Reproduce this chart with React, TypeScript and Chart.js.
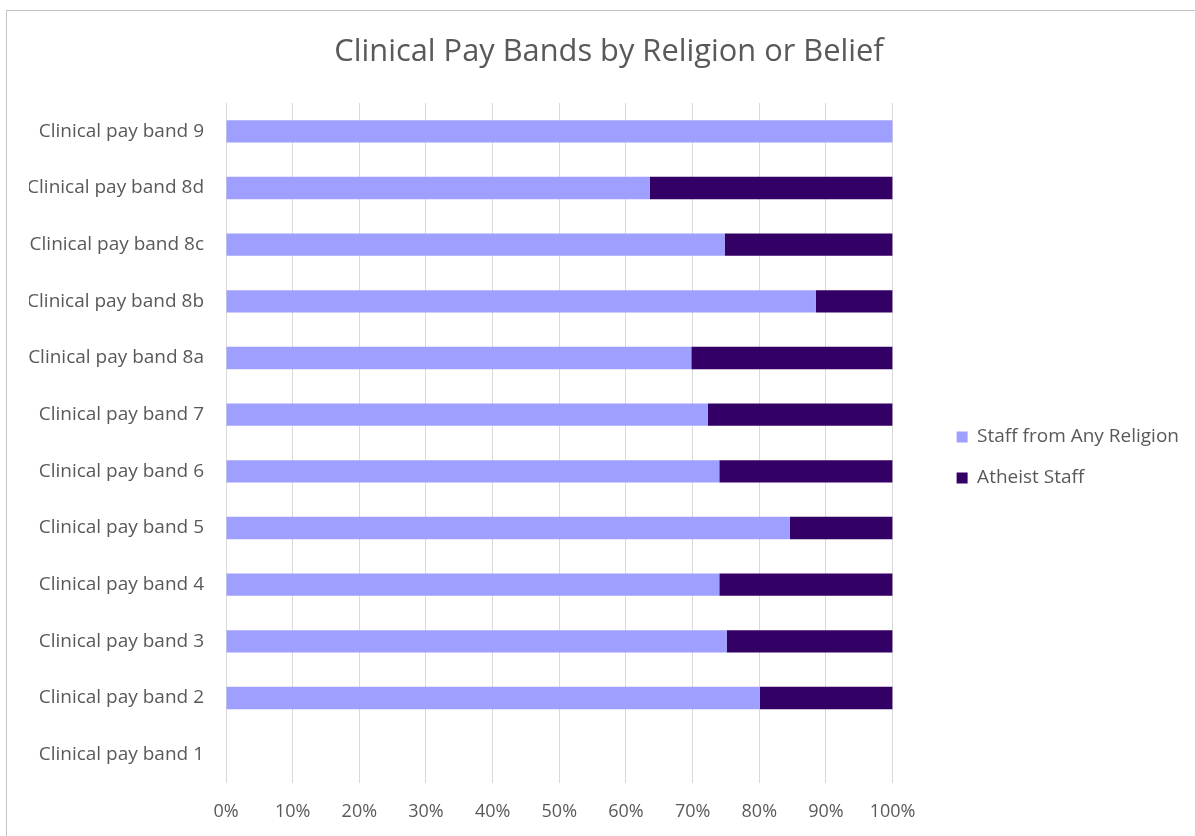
import React, { useEffect, useRef } from "react";
import { Chart, registerables } from "chart.js";

Chart.register(...registerables);

const TITLE = "Clinical Pay Bands by Religion or Belief";
const categories = [
  "Clinical pay band 9",
  "Clinical pay band 8d",
  "Clinical pay band 8c",
  "Clinical pay band 8b",
  "Clinical pay band 8a",
  "Clinical pay band 7",
  "Clinical pay band 6",
  "Clinical pay band 5",
  "Clinical pay band 4",
  "Clinical pay band 3",
  "Clinical pay band 2",
  "Clinical pay band 1",
];
const seriesNames = ["Staff from Any Religion", "Atheist Staff"];
const anyReligion = [100, 63.6, 74.8, 88.5, 69.8, 72.3, 74.0, 84.6, 74.0, 75.1, 80.1, 0];
const atheist = [0, 36.4, 25.2, 11.5, 30.2, 27.7, 26.0, 15.4, 26.0, 24.9, 19.9, 0];
const xTicks = [0, 10, 20, 30, 40, 50, 60, 70, 80, 90, 100];

const FONT = "'Open Sans', 'Noto Sans', sans-serif";
const TEXT = "#595959";

export default function App() {
  const ref = useRef<HTMLCanvasElement | null>(null);

  useEffect(() => {
    if (!ref.current) return;
    const chart = new Chart(ref.current, {
      type: "bar",
      data: {
        labels: categories,
        datasets: [
          {
            label: seriesNames[0],
            data: anyReligion,
            backgroundColor: "#9F9FFF",
            borderWidth: 0,
          },
          {
            label: seriesNames[1],
            data: atheist,
            backgroundColor: "#330066",
            borderWidth: 0,
          },
        ],
      },
      options: {
        indexAxis: "y",
        responsive: false,
        animation: false,
        devicePixelRatio: 1,
        layout: { padding: { left: 22, right: 6, top: 0, bottom: 0 } },
        datasets: {
          bar: { categoryPercentage: 1, barPercentage: 0.394 },
        },
        scales: {
          x: {
            stacked: true,
            min: 0,
            max: 100,
            afterBuildTicks: (s: any) => {
              s.ticks = xTicks.map((v) => ({ value: v }));
            },
            afterFit: (s: any) => {
              s.height = 53;
            },
            grid: { color: "#d9d9d9", lineWidth: 1, drawTicks: false },
            border: { display: false },
            ticks: {
              padding: 17.6,
              color: TEXT,
              font: { family: FONT, size: 18 },
              callback: (v: any) => v + "%",
            },
          },
          y: {
            stacked: true,
            afterFit: (s: any) => {
              s.width = 197;
            },
            grid: { display: false, drawTicks: false },
            border: { display: false },
            ticks: {
              padding: 22,
              color: TEXT,
              font: { family: FONT, size: 19 },
            },
          },
          yR: {
            type: "category",
            position: "right",
            display: true,
            afterFit: (s: any) => {
              s.width = 42;
            },
            grid: { display: false, drawTicks: false },
            border: { display: false },
            ticks: { display: false },
          },
        },
        plugins: {
          title: {
            display: true,
            text: TITLE,
            color: TEXT,
            font: { family: FONT, size: 30.8, weight: "normal" },
            padding: { top: 22.5, bottom: 32.5 },
          },
          legend: {
            display: true,
            position: "right",
            fullSize: false,
            align: "center",
            maxWidth: 400,
            title: {
              display: true,
              text: "",
              font: { size: 12 },
              padding: { top: 0, bottom: 14.6 },
            },
            labels: {
              boxWidth: 11,
              boxHeight: 11,
              padding: 22,
              color: TEXT,
              font: { family: FONT, size: 19 },
            },
          },
          tooltip: { enabled: false },
        },
      },
    });
    return () => chart.destroy();
  }, []);

  return (
    <div
      style={{
        position: "fixed",
        left: 6,
        top: 10,
        width: 1200,
        height: 840,
        border: "1px solid #c4c4c4",
        background: "#ffffff",
        overflow: "hidden",
      }}
    >
      <canvas
        ref={ref}
        width={1188}
        height={825}
        style={{ width: 1188, height: 825, display: "block" }}
      />
    </div>
  );
}
